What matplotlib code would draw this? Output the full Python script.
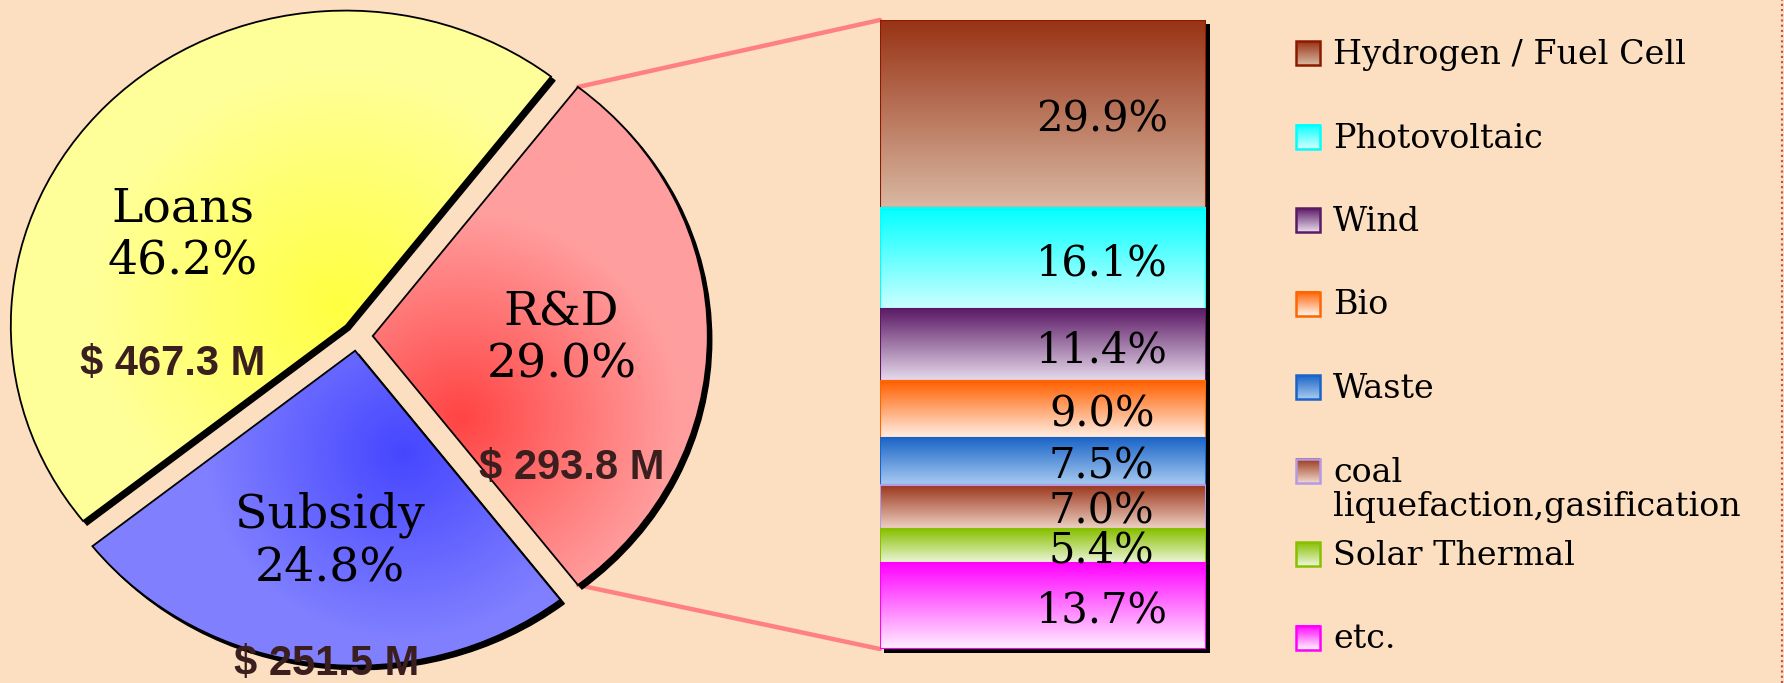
import numpy as np
import matplotlib
matplotlib.use("Agg")
import matplotlib.pyplot as plt
from matplotlib import transforms as mtransforms
from matplotlib.colors import to_rgb
from matplotlib.patches import Wedge, Rectangle, ConnectionPatch
from matplotlib.lines import Line2D

# support type breakdown (pie)
support_types = ["R&D", "Loans", "Subsidy"]
support_amounts = [293.8, 467.3, 251.5]   # $ M
support_shares = [29.0, 46.2, 24.8]       # %

# R&D breakdown by field (stacked bar)
rd_fields = ["Hydrogen / Fuel Cell", "Photovoltaic", "Wind", "Bio", "Waste",
             "coal\nliquefaction,gasification", "Solar Thermal", "etc."]
rd_shares = [29.9, 16.1, 11.4, 9.0, 7.5, 7.0, 5.4, 13.7]

W, H, DPI = 1784, 683, 100
BG = "#FCDEC0"
SERIF = "DejaVu Serif"

# gradient colours: top/strong -> bottom/light, edge
seg_top = ["#983214", "#00FFFF", "#5C1A66", "#FF6000", "#1A64C8", "#993318", "#88C000", "#FF00FF"]
seg_bot = ["#D9B8A2", "#CCFFFF", "#E8DCEC", "#FFF0E6", "#A8CBF0", "#EED2C4", "#EEF6DC", "#FFF0FF"]
seg_edge = ["#8B1A00", "#00FFFF", "#5C1A66", "#FF6600", "#1A64C8", "#B399E6", "#88C000", "#FF00FF"]

# pie radial gradients: inner colour, outer colour, focus, spread
pie_inner = ["#FF4444", "#FFFF40", "#4646FF"]
pie_outer = ["#FF9E9E", "#FFFF9A", "#8080FF"]
pie_focus = [(0.31, -0.26), (-0.05, 0.10), (0.14, -0.37)]
pie_spread = [0.65, 0.75, 0.6]


def _blend(c0, c1, t):
    c0, c1 = np.array(to_rgb(c0)), np.array(to_rgb(c1))
    t = np.clip(t, 0, 1)[..., None]
    return c0 * (1 - t) + c1 * t


fig = plt.figure(figsize=(W / DPI, H / DPI), dpi=DPI)
fig.patch.set_facecolor(BG)
shadow_off = mtransforms.ScaledTranslation(4 / DPI, -4 / DPI, fig.dpi_scale_trans)

# ---- pie ----
cx, cy, rx, ry = 357, 336, 335, 315   # centre (px from top-left) and radii
pie_w = 760
ax = fig.add_axes([0, 0, pie_w / W, 1])
xlim = (-cx / rx, (pie_w - cx) / rx)
ylim = (-(H - cy) / ry, cy / ry)
wedges, _ = ax.pie(support_amounts,
                   startangle=-180 * support_amounts[0] / sum(support_amounts),
                   explode=[0.047] * 3, radius=1,
                   wedgeprops=dict(facecolor="none", edgecolor="black", linewidth=1.3, zorder=3))

for w in wedges:
    s = Wedge(w.center, w.r, w.theta1, w.theta2, facecolor="black", edgecolor="black",
              linewidth=1, zorder=1, clip_on=False)
    s.set_transform(ax.transData + shadow_off)
    ax.add_patch(s)

GX, GY = np.meshgrid(np.linspace(*xlim, 500), np.linspace(*ylim, 500))
for w, (fx, fy), c0, c1, rr in zip(wedges, pie_focus, pie_inner, pie_outer, pie_spread):
    t = np.hypot(GX - fx, GY - fy) / rr
    img = ax.imshow(_blend(c0, c1, t), extent=(*xlim, *ylim), origin="lower",
                    aspect="auto", zorder=2, interpolation="bilinear")
    img.set_clip_path(w)

name_pos = [(0.61, -0.01), (-0.52, 0.32), (-0.08, -0.65)]
money_pos = [(0.64, -0.42), (-0.55, -0.09), (-0.09, -1.04)]
for name, share, amt, (nx, ny), (mx, my) in zip(support_types, support_shares,
                                                  support_amounts, name_pos, money_pos):
    ax.text(nx, ny, f"{name}\n{share:.1f}%", ha="center", va="center",
            family=SERIF, fontsize=34, zorder=5)
    ax.text(mx, my, f"$ {amt:.1f} M", ha="center", va="center", family="Liberation Sans",
            weight="bold", fontsize=30, color="#3B1E1E", zorder=5)

ax.set_aspect("auto")
ax.set_xlim(*xlim)
ax.set_ylim(*ylim)
ax.axis("off")

# ---- stacked bar ----
bx0, bx1, by0, by1 = 880, 1206, 20, 649
bax = fig.add_axes([bx0 / W, 1 - by1 / H, (bx1 - bx0) / W, (by1 - by0) / H])
total = sum(rd_shares)
bottoms = np.concatenate([[0], np.cumsum(rd_shares)[:-1]])

sh = bax.bar(0, total, width=1, align="edge", color="black", zorder=1, clip_on=False)[0]
sh.set_transform(bax.transData + shadow_off)

bars = bax.bar(0, rd_shares, bottom=bottoms, width=1, align="edge", facecolor="none",
               edgecolor=seg_edge, linewidth=1.5, zorder=3)
tt = np.linspace(0, 1, 128)[:, None] * np.ones((1, 2))
for b, c0, c1, v in zip(bars, seg_top, seg_bot, rd_shares):
    x, y, bw, bh = b.get_x(), b.get_y(), b.get_width(), b.get_height()
    bax.imshow(_blend(c0, c1, tt), extent=(x, x + bw, y + bh, y), aspect="auto",
               zorder=2, interpolation="bilinear")
    bax.text(0.68, y + bh / 2 + 0.8, f"{v:.1f}%", ha="center", va="center",
             family=SERIF, fontsize=30, zorder=5)
bax.set_xlim(0, 1)
bax.set_ylim(total, 0)
bax.axis("off")

# connector lines from the R&D slice to the bar
rd = wedges[0]
for ang, yb in [(rd.theta2, 0), (rd.theta1, total)]:
    px = rd.center[0] + rd.r * np.cos(np.radians(ang))
    py = rd.center[1] + rd.r * np.sin(np.radians(ang))
    con = ConnectionPatch((px, py), (0, yb), coordsA=ax.transData, coordsB=bax.transData,
                          color="#FF8080", linewidth=3.2, zorder=0)
    fig.add_artist(con)

# ---- legend ----
lax = fig.add_axes([1280 / W, 0, (W - 1280) / W, 1])
row0, step = 53, 83.5
for i, (lab, c0, c1, ec) in enumerate(zip(rd_fields, seg_top, seg_bot, seg_edge)):
    yc = row0 + i * step
    lax.imshow(_blend(c0, c1, tt), extent=(1296, 1320, yc + 12, yc - 12), aspect="auto",
               zorder=2, interpolation="bilinear")
    lax.add_patch(Rectangle((1296, yc - 12), 24, 24, fill=False, edgecolor=ec,
                            linewidth=1.8, zorder=3))
    lax.text(1333, yc - 14, lab, ha="left", va="top", family=SERIF, fontsize=24,
             linespacing=1.1, zorder=4)
lax.set_xlim(1280, W)
lax.set_ylim(H, 0)
lax.axis("off")

fig.add_artist(Line2D([1782 / W] * 2, [0, 1], transform=fig.transFigure,
                      color="#C0504D", linewidth=1.5, linestyle=(0, (1, 1.5))))

fig.savefig("out.png", dpi=DPI, facecolor=BG)
